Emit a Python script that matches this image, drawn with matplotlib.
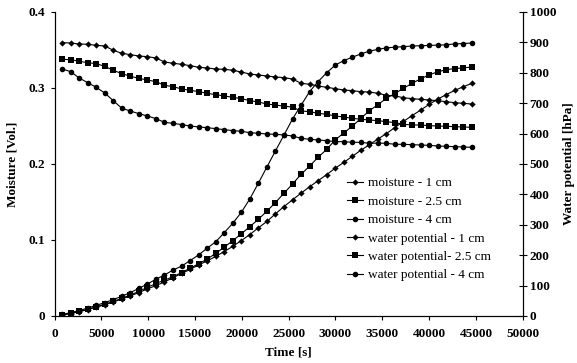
import numpy as np
import matplotlib
matplotlib.use("Agg")
import matplotlib.pyplot as plt

plt.rcParams.update({'font.family': 'serif', 'font.serif': ['Liberation Serif'],
                     'font.size': 9.5})

# sampling times [s]
time_s = np.linspace(800, 44550, 49)

moist_1 = [0.3597, 0.3592, 0.3579, 0.3575, 0.3561, 0.3553, 0.3496, 0.3456, 0.3439, 0.3421,
           0.3412, 0.3395, 0.3342, 0.3325, 0.3312, 0.3294, 0.3272, 0.3263, 0.3250, 0.3246,
           0.3233, 0.3210, 0.3184, 0.3171, 0.3158, 0.3145, 0.3136, 0.3118, 0.3062, 0.3049,
           0.3026, 0.3009, 0.2991, 0.2974, 0.2965, 0.2952, 0.2947, 0.2930, 0.2904, 0.2895,
           0.2872, 0.2860, 0.2851, 0.2842, 0.2833, 0.2820, 0.2807, 0.2798, 0.2789]
moist_25 = [0.3377, 0.3373, 0.3351, 0.3333, 0.3320, 0.3285, 0.3232, 0.3189, 0.3154, 0.3127,
            0.3105, 0.3083, 0.3035, 0.3018, 0.2987, 0.2970, 0.2952, 0.2930, 0.2912, 0.2895,
            0.2877, 0.2860, 0.2833, 0.2816, 0.2789, 0.2776, 0.2761, 0.2748, 0.2697, 0.2689,
            0.2667, 0.2654, 0.2632, 0.2618, 0.2601, 0.2588, 0.2579, 0.2570, 0.2557, 0.2544,
            0.2522, 0.2513, 0.2513, 0.2504, 0.2500, 0.2496, 0.2491, 0.2487, 0.2482]
moist_4 = [0.3250, 0.3215, 0.3132, 0.3070, 0.3009, 0.2934, 0.2833, 0.2733, 0.2697, 0.2662,
           0.2632, 0.2596, 0.2548, 0.2535, 0.2518, 0.2500, 0.2487, 0.2478, 0.2465, 0.2452,
           0.2439, 0.2430, 0.2412, 0.2404, 0.2395, 0.2390, 0.2382, 0.2368, 0.2338, 0.2325,
           0.2316, 0.2307, 0.2294, 0.2294, 0.2285, 0.2285, 0.2272, 0.2275, 0.2272, 0.2259,
           0.2259, 0.2254, 0.2250, 0.2245, 0.2237, 0.2232, 0.2228, 0.2224, 0.2219]

wp_1 = [3, 8, 14, 21, 29, 37, 46, 56, 66, 77,
        89, 100, 112, 126, 140, 153, 168, 181, 196, 212,
        229, 248, 268, 290, 311, 336, 360, 382, 404, 425,
        445, 465, 486, 505, 525, 545, 563, 582, 600, 620,
        640, 659, 677, 696, 713, 728, 742, 754, 765]
wp_25 = [4, 9, 15, 22, 30, 39, 48, 58, 69, 81,
         94, 107, 118, 129, 143, 157, 172, 187, 206, 226,
         248, 270, 294, 318, 345, 373, 404, 434, 466, 493,
         522, 548, 579, 602, 624, 650, 675, 695, 716, 732,
         749, 765, 780, 793, 803, 810, 814, 816, 819]
wp_4 = [5, 11, 18, 26, 35, 44, 54, 65, 77, 91,
        105, 121, 135, 151, 164, 182, 201, 223, 244, 274,
        305, 341, 385, 437, 490, 543, 595, 648, 693, 738,
        771, 800, 825, 840, 851, 862, 871, 877, 882, 884,
        886, 888, 889, 890, 891, 892, 895, 896, 898]

fig = plt.figure(figsize=(5.77, 3.63), dpi=100)
ax1 = fig.add_axes([0.0946, 0.1295, 0.8114, 0.8375])
ax2 = ax1.twinx()

lw = 0.8
st = dict(color='black', linewidth=lw, markeredgewidth=0)
ax1.plot(time_s, moist_1, marker='D', markersize=3.2, label='moisture - 1 cm', **st)
ax1.plot(time_s, moist_25, marker='s', markersize=4.4, label='moisture - 2.5 cm', **st)
ax1.plot(time_s, moist_4, marker='o', markersize=4.0, label='moisture - 4 cm', **st)
ax2.plot(time_s, wp_1, marker='D', markersize=3.2, label='water potential - 1 cm', **st)
ax2.plot(time_s, wp_25, marker='s', markersize=4.4, label='water potential- 2.5 cm', **st)
ax2.plot(time_s, wp_4, marker='o', markersize=4.0, label='water potential - 4 cm', **st)

ax1.set_xlim(0, 50000)
ax1.set_ylim(0, 0.4)
ax2.set_ylim(0, 1000)
ax1.set_xticks(np.arange(0, 50001, 5000))
ax1.set_yticks([0, 0.1, 0.2, 0.3, 0.4])
ax1.set_yticklabels(['0', '0.1', '0.2', '0.3', '0.4'])
ax2.set_yticks(np.arange(0, 1001, 100))

for ax in (ax1, ax2):
    ax.spines['top'].set_visible(False)
    for s in ax.spines.values():
        s.set_linewidth(0.8)
ax1.tick_params(axis='both', direction='out', length=3, width=0.8, labelsize=9.5, pad=4)
ax1.tick_params(axis='x', pad=6)
ax2.tick_params(axis='y', direction='inout', length=6, width=0.8, labelsize=9.5, pad=2)
for lab in ax1.get_xticklabels() + ax1.get_yticklabels() + ax2.get_yticklabels():
    lab.set_fontweight('bold')

ax1.set_xlabel('Time [s]', fontweight='bold', fontsize=9.5, labelpad=4)
ax1.set_ylabel('Moisture [Vol.]', fontweight='bold', fontsize=9.5, labelpad=7)
ax2.set_ylabel('Water potential [hPa]', fontweight='bold', fontsize=9.5, labelpad=5, rotation=90)

h1, l1 = ax1.get_legend_handles_labels()
h2, l2 = ax2.get_legend_handles_labels()
ax2.legend(h1 + h2, l1 + l2, loc='upper left', bbox_to_anchor=(0.625, 0.457),
           frameon=False, fontsize=9.5, handlelength=1.2, handletextpad=0.35,
           labelspacing=0.47, borderaxespad=0, borderpad=0)

fig.savefig('out.png', dpi=100)
